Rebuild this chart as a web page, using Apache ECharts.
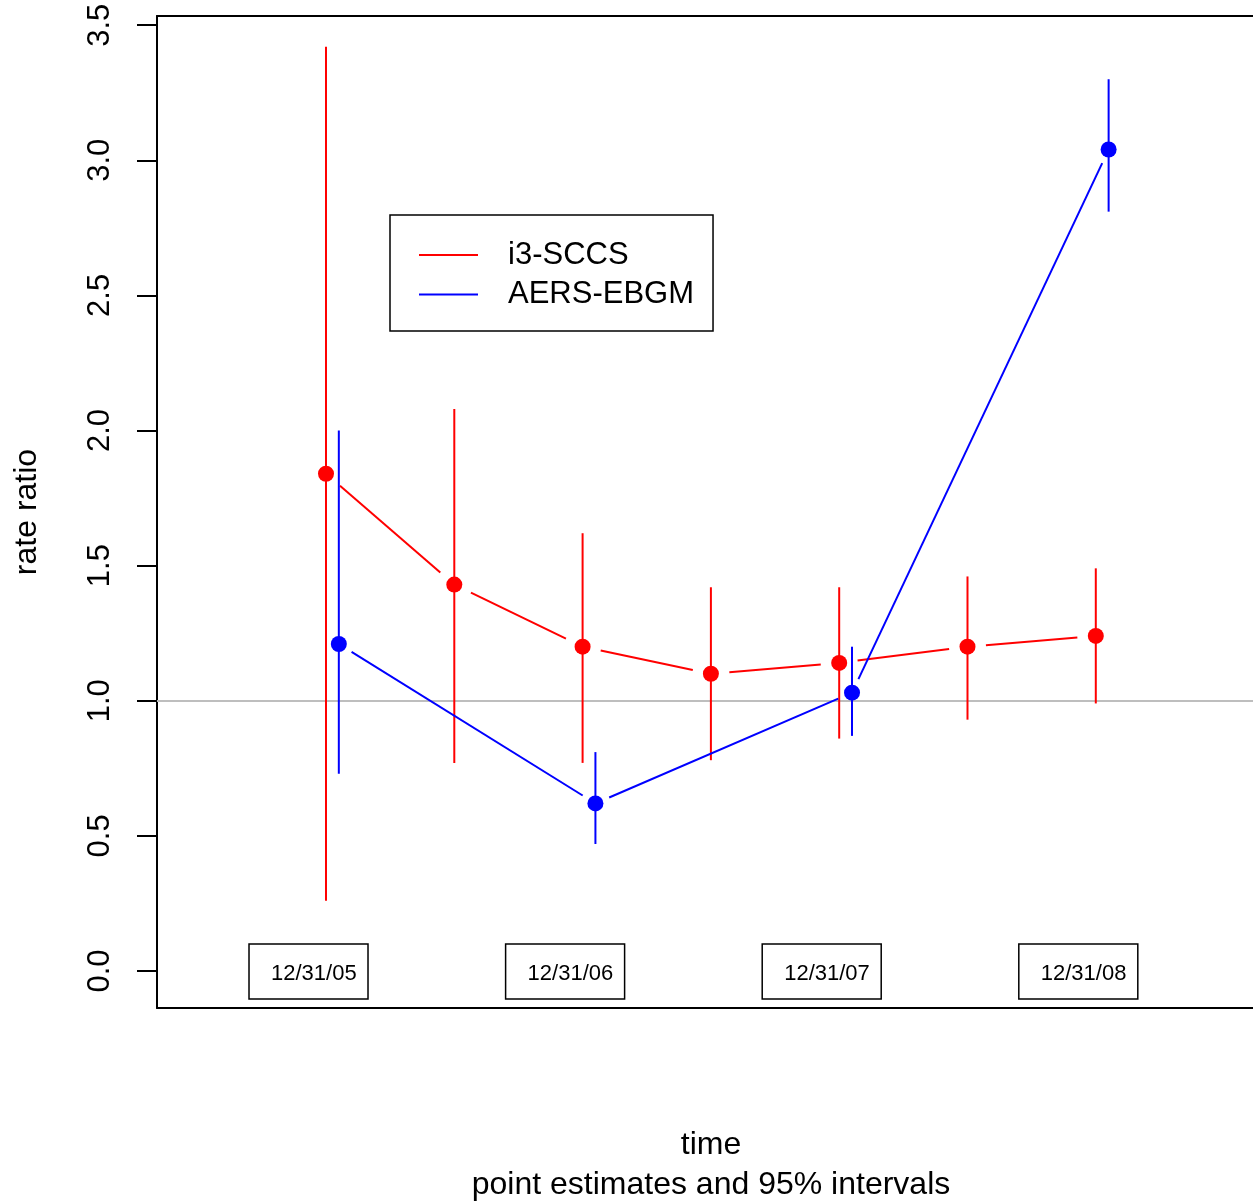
<!DOCTYPE html>
<html>
<head>
<meta charset="utf-8">
<script src="https://cdn.jsdelivr.net/npm/echarts@6/dist/echarts.min.js"></script>
<style>
html,body{margin:0;padding:0;background:#fff;}
#chart{width:1253px;height:1204px;}
</style>
</head>
<body>
<div id="chart"></div>
<script>
// ---- data ----
const redX    = [1, 2, 3, 4, 5, 6, 7];
const redEst  = [1.84, 1.43, 1.20, 1.10, 1.14, 1.20, 1.24];
const redLow  = [0.26, 0.77, 0.77, 0.78, 0.86, 0.93, 0.99];
const redHigh = [3.42, 2.08, 1.62, 1.42, 1.42, 1.46, 1.49];

const blueX    = [1.1, 3.1, 5.1, 7.1];
const blueEst  = [1.21, 0.62, 1.03, 3.04];
const blueLow  = [0.73, 0.47, 0.87, 2.81];
const blueHigh = [2.00, 0.81, 1.20, 3.30];

const dateLabels = ['12/31/05', '12/31/06', '12/31/07', '12/31/08'];
const dateX      = [0.905, 2.905, 4.905, 6.905];

const yTicks = [0, 0.5, 1, 1.5, 2, 2.5, 3, 3.5];
const refLine = 1;

const seriesNames = ['i3-SCCS', 'AERS-EBGM'];

// ---- helpers ----
const FONT = 'Liberation Sans, Arial, Helvetica, sans-serif';
const RED = '#ff0000', BLUE = '#0000ff';

function segments(xs, ys) {
  const out = [];
  for (let i = 1; i < xs.length; i++) out.push([xs[i-1], ys[i-1], xs[i], ys[i]]);
  return out;
}
function bars(xs, lo, hi) { return xs.map((x, i) => [x, lo[i], hi[i]]); }
function points(xs, ys) { return xs.map((x, i) => [x, ys[i]]); }

function segRender(gap, color) {
  return function (params, api) {
    const p1 = api.coord([api.value(0), api.value(1)]);
    const p2 = api.coord([api.value(2), api.value(3)]);
    const dx = p2[0] - p1[0], dy = p2[1] - p1[1];
    const L = Math.sqrt(dx * dx + dy * dy);
    const ux = dx / L, uy = dy / L;
    return {
      type: 'line',
      shape: { x1: p1[0] + ux * gap, y1: p1[1] + uy * gap, x2: p2[0] - ux * gap, y2: p2[1] - uy * gap },
      style: { stroke: color, lineWidth: 2 }
    };
  };
}
function barRender(color) {
  return function (params, api) {
    const a = api.coord([api.value(0), api.value(1)]);
    const b = api.coord([api.value(0), api.value(2)]);
    return { type: 'line', shape: { x1: a[0], y1: a[1], x2: b[0], y2: b[1] }, style: { stroke: color, lineWidth: 2 } };
  };
}

const chart = echarts.init(document.getElementById('chart'), null, { renderer: 'canvas' });

const option = {
  backgroundColor: '#fff',
  animation: false,
  grid: { left: 157, right: 0, top: 16, bottom: 196, show: false, containLabel: false, outerBoundsMode: 'none' },
  legend: {
    left: 390, top: 215, orient: 'vertical',
    padding: [24.5, 19, 21, 29],
    itemWidth: 59, itemHeight: 2, itemGap: 8.5,
    icon: 'rect',
    borderColor: '#000', borderWidth: 1.5, borderRadius: 0,
    backgroundColor: '#fff',
    textStyle: { fontSize: 31, fontFamily: FONT, color: '#000', lineHeight: 30, padding: [0, 0, 0, 25] },
    data: [
      { name: seriesNames[0], itemStyle: { color: RED } },
      { name: seriesNames[1], itemStyle: { color: BLUE } }
    ],
    selectedMode: false
  },
  xAxis: [
    {
      type: 'value', min: -0.3172, max: 8.2253,
      axisLine: { show: true, onZero: false, lineStyle: { color: '#000', width: 2 } },
      axisTick: { show: false }, axisLabel: { show: false }, splitLine: { show: false },
      name: 'time\npoint estimates and 95% intervals',
      nameLocation: 'middle', nameGap: 117,
      nameTextStyle: { fontSize: 32, fontFamily: FONT, color: '#000', lineHeight: 40, padding: [0, 0, 0, 12] }
    },
    {
      type: 'value', min: -0.3172, max: 8.2253, position: 'top',
      axisLine: { show: true, onZero: false, lineStyle: { color: '#000', width: 2 } },
      axisTick: { show: false }, axisLabel: { show: false }, splitLine: { show: false }
    }
  ],
  yAxis: {
    type: 'value', min: -0.137, max: 3.534,
    axisLine: { show: true, onZero: false, lineStyle: { color: '#000', width: 2 } },
    axisTick: { show: true, length: 20, customValues: yTicks, lineStyle: { color: '#000', width: 2 } },
    axisLabel: {
      show: true, customValues: yTicks, rotate: 90, margin: 41,
      fontSize: 31, fontFamily: FONT, color: '#000',
      formatter: v => Number(v).toFixed(1)
    },
    splitLine: { show: false },
    name: 'rate ratio', nameLocation: 'middle', nameGap: 114, nameRotate: 90,
    nameTextStyle: { fontSize: 32, fontFamily: FONT, color: '#000' }
  },
  series: [
    {
      name: seriesNames[0], type: 'custom', z: 2,
      itemStyle: { color: RED },
      renderItem: segRender(18.5, RED),
      data: segments(redX, redEst),
      encode: { x: [0, 2], y: [1, 3] },
      markLine: {
        silent: true, symbol: 'none', z: 1,
        label: { show: false },
        lineStyle: { color: '#bebebe', width: 2, type: 'solid' },
        data: [{ yAxis: refLine }]
      }
    },
    {
      name: seriesNames[0], type: 'custom', z: 3,
      itemStyle: { color: RED },
      renderItem: barRender(RED),
      data: bars(redX, redLow, redHigh),
      encode: { x: 0, y: [1, 2] }
    },
    {
      name: seriesNames[0], type: 'scatter', z: 4,
      symbol: 'circle', symbolSize: 16,
      itemStyle: { color: RED, opacity: 1 },
      data: points(redX, redEst)
    },
    {
      name: seriesNames[1], type: 'custom', z: 5,
      itemStyle: { color: BLUE },
      renderItem: segRender(15, BLUE),
      data: segments(blueX, blueEst),
      encode: { x: [0, 2], y: [1, 3] }
    },
    {
      name: seriesNames[1], type: 'custom', z: 6,
      itemStyle: { color: BLUE },
      renderItem: barRender(BLUE),
      data: bars(blueX, blueLow, blueHigh),
      encode: { x: 0, y: [1, 2] }
    },
    {
      name: seriesNames[1], type: 'scatter', z: 7,
      symbol: 'circle', symbolSize: 16,
      itemStyle: { color: BLUE, opacity: 1 },
      data: points(blueX, blueEst)
    },
    {
      name: 'dates', type: 'custom', z: 8, silent: true,
      data: dateX.map(x => [x, 0]),
      renderItem: function (params, api) {
        const c = api.coord([api.value(0), api.value(1)]);
        return {
          type: 'group',
          children: [
            { type: 'rect', shape: { x: c[0] - 64.8, y: c[1] - 27, width: 119, height: 55 },
              style: { fill: '#fff', stroke: '#000', lineWidth: 1.5 } },
            { type: 'text', x: c[0], y: c[1] + 2.5,
              style: { text: dateLabels[params.dataIndex], fontSize: 22, fontFamily: FONT,
                       fill: '#000', align: 'center', verticalAlign: 'middle' } }
          ]
        };
      }
    }
  ]
};
chart.setOption(option);
</script>
</body>
</html>
